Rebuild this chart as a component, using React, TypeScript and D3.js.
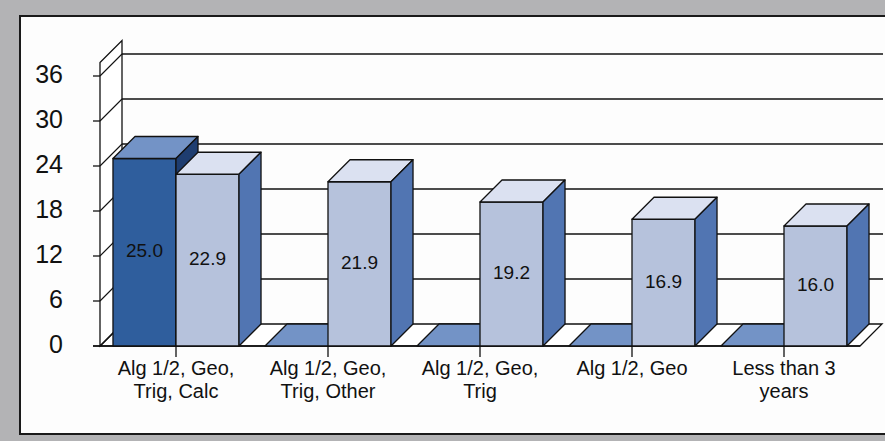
import React from "react";
import * as d3 from "d3";

const categories = [
  ["Alg 1/2, Geo,", "Trig, Calc"],
  ["Alg 1/2, Geo,", "Trig, Other"],
  ["Alg 1/2, Geo,", "Trig"],
  ["Alg 1/2, Geo"],
  ["Less than 3", "years"],
];
const seriesNames = ["dark", "light"];
const darkValues = [25.0, 0, 0, 0, 0];
const lightValues = [22.9, 21.9, 19.2, 16.9, 16.0];
const yTicks = [0, 6, 12, 18, 24, 30, 36];

const W = 885;
const H = 441;
const D = 22; // depth offset of the 3d box

const colors = {
  dark: { front: "#2f5e9d", top: "#7393c6", side: "#1e3d70" },
  light: { front: "#b6c2dc", top: "#dbe1f1", side: "#5175b2" },
};

const App = () => {
  const x = d3
    .scaleBand<number>()
    .domain(categories.map((_, i) => i))
    .range([100, 860]);
  const xs = d3
    .scaleBand<string>()
    .domain(seriesNames)
    .range([0, x.bandwidth()])
    .paddingOuter(0.206);
  const y = d3.scaleLinear().domain([0, 37.8]).range([346, 62.5]);
  const base = y(0);
  const top = y(37.8);
  const font = "'Liberation Sans', Arial, sans-serif";

  const bar = (i: number, s: string, v: number) => {
    const x0 = (x(i) ?? 0) + (xs(s) ?? 0);
    const x1 = x0 + xs.bandwidth();
    const yt = y(v);
    const c = colors[s as "dark" | "light"];
    const st = { stroke: "#111", strokeWidth: 1.3, strokeLinejoin: "round" as const };
    return (
      <g key={s + i}>
        {v > 0 && <rect x={x0} y={yt} width={x1 - x0} height={base - yt} fill={c.front} {...st} />}
        <polygon
          points={`${x0},${yt} ${x0 + D},${yt - D} ${x1 + D},${yt - D} ${x1},${yt}`}
          fill={c.top}
          {...st}
        />
        {v > 0 && (
          <polygon
            points={`${x1},${yt} ${x1 + D},${yt - D} ${x1 + D},${base - D} ${x1},${base}`}
            fill={c.side}
            {...st}
          />
        )}
        {v > 0 && (
          <text
            x={(x0 + x1) / 2}
            y={(yt + base) / 2}
            textAnchor="middle"
            dominantBaseline="middle"
            fontSize={19}
            fontFamily={font}
            fill="#111"
          >
            {v.toFixed(1)}
          </text>
        )}
      </g>
    );
  };

  return (
    <svg
      width={W}
      height={H}
      style={{ position: "fixed", left: 0, top: 0, background: "#b3b3b5" }}
    >
      <rect x={20} y={16} width={880} height={418} fill="#fdfdfd" stroke="#1a1a1a" strokeWidth={2} />

      {/* floor */}
      <polygon
        points={`100,${base} 860,${base} ${860 + D},${base - D} ${100 + D},${base - D}`}
        fill="#fff"
        stroke="#111"
        strokeWidth={1.3}
      />
      {/* back wall gridlines */}
      {yTicks.slice(1).map((t) => (
        <line key={t} x1={100 + D} x2={883} y1={y(t) - D} y2={y(t) - D} stroke="#111" strokeWidth={1.5} />
      ))}
      {/* left wall */}
      <polygon
        points={`100,${base} 100,${top} ${100 + D},${top - D} ${100 + D},${base - D}`}
        fill="#fff"
        stroke="#111"
        strokeWidth={1.3}
      />
      {yTicks.map((t) => (
        <g key={t}>
          <line x1={100} y1={y(t)} x2={100 + D} y2={y(t) - D} stroke="#111" strokeWidth={1.1} />
          <line x1={93} y1={y(t)} x2={100} y2={y(t)} stroke="#111" strokeWidth={1.3} />
          <text
            x={63}
            y={y(t)}
            textAnchor="end"
            dominantBaseline="middle"
            fontSize={25}
            fontFamily={font}
            fill="#111"
          >
            {t}
          </text>
        </g>
      ))}
      <line x1={93} x2={860} y1={base} y2={base} stroke="#111" strokeWidth={1.5} />

      {categories.map((_, i) => (
        <g key={i}>
          {bar(i, "dark", darkValues[i])}
          {bar(i, "light", lightValues[i])}
        </g>
      ))}

      {categories.map((lines, i) => {
        const cx = (x(i) ?? 0) + x.bandwidth() / 2;
        return (
          <g key={"c" + i}>
            <line x1={cx} x2={cx} y1={base} y2={base + 11} stroke="#111" strokeWidth={1.3} />
            {lines.map((l, j) => (
              <text
                key={j}
                x={cx}
                y={375 + j * 23}
                textAnchor="middle"
                fontSize={20}
                fontFamily={font}
                fill="#111"
              >
                {l}
              </text>
            ))}
          </g>
        );
      })}
    </svg>
  );
};

export default App;
